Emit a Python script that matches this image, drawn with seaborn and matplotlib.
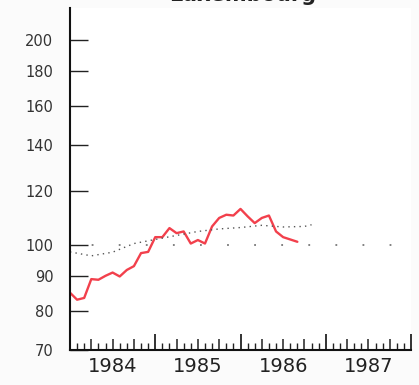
import numpy as np
import pandas as pd
import seaborn as sns
import matplotlib.pyplot as plt
from matplotlib.ticker import FixedLocator, NullFormatter

# Monthly index (red line), from Jan 1984
months = np.arange(33)
index_values = [85.0, 83.0, 83.5, 89.0, 88.8, 90.0, 91.0, 89.8, 91.8, 93.0, 97.2, 97.6,
                102.6, 102.6, 105.8, 104.0, 104.6, 100.4, 101.6, 100.4, 106.4, 109.5, 110.7, 110.4,
                112.9, 110.1, 107.6, 109.5, 110.4, 104.6, 102.6, 101.8, 101.0]

# Trend (dotted grey line)
trend_months = [0, 3, 6, 9, 12, 15, 18, 21, 24, 27, 30, 33, 34]
trend_values = [97.6, 96.3, 97.5, 100.4, 101.8, 103.2, 104.6, 105.5, 106.0, 106.8, 106.2, 106.4, 107.0]

years = [1984, 1985, 1986, 1987]
y_ticks = [70, 80, 90, 100, 120, 140, 160, 180, 200]

df = pd.DataFrame({"t": 1984 + months / 12, "v": index_values})
dft = pd.DataFrame({"t": 1984 + np.array(trend_months) / 12, "v": trend_values})

sns.set_style("white")
plt.rcParams['font.family'] = ['DejaVu Sans']

fig = plt.figure(figsize=(4.19, 3.85), dpi=100, facecolor='#fbfbfb')
ax = fig.add_axes([0.167, 0.091, 0.814, 0.888])
ax.set_facecolor('white')

sns.lineplot(data=df, x="t", y="v", ax=ax, color='#f2404c', linewidth=1.7)
sns.lineplot(data=dft, x="t", y="v", ax=ax, color='#555555', linewidth=1.0,
             linestyle=(0, (1, 3)))
ax.axhline(100, color='#777777', linewidth=1.3, linestyle=(3, (1, 14)))

ax.set_yscale('log')
ax.set_ylim(70, 223)
ax.set_xlim(1984, 1988)

ax.yaxis.set_major_locator(FixedLocator(y_ticks))
ax.yaxis.set_minor_locator(FixedLocator([]))
ax.set_yticklabels([str(v) for v in y_ticks])
ax.tick_params(axis='y', which='major', direction='in', length=13, width=1.0,
               color='#222222', labelsize=10.5, labelcolor='#333333', pad=12, left=True)

# year boundaries long, quarters medium, other months short
ax.xaxis.set_major_locator(FixedLocator([1984, 1985, 1986, 1987, 1988]))
ax.xaxis.set_major_formatter(NullFormatter())
ax.xaxis.set_minor_locator(FixedLocator([1984 + m / 12 for m in range(48) if m % 12 and m % 3 == 0]))
ax.tick_params(axis='x', which='major', direction='in', length=11.5, width=1.3,
               color='#222222', bottom=True)
ax.tick_params(axis='x', which='minor', direction='in', length=8, width=1.1,
               color='#222222', bottom=True)

mon = ax.secondary_xaxis('bottom')
mon.set_xticks([1984 + m / 12 for m in range(48) if m % 3])
mon.xaxis.set_major_formatter(NullFormatter())
mon.tick_params(direction='in', length=5, width=1.0, color='#222222')
mon.spines['bottom'].set_visible(False)

sec = ax.secondary_xaxis('bottom')
sec.set_xticks([y + 0.5 for y in years])
sec.set_xticklabels([str(y) for y in years])
sec.tick_params(length=0, labelsize=14, labelcolor='#222222', pad=5)
sec.spines['bottom'].set_visible(False)

ax.set_xlabel('')
ax.set_ylabel('')
for s in ['top', 'right']:
    ax.spines[s].set_visible(False)
for s in ['left', 'bottom']:
    ax.spines[s].set_color('#111111')
    ax.spines[s].set_linewidth(1.5)

fig.text(0.58, 1.012, 'Luxembourg', ha='center', va='center', fontsize=15,
         fontweight='bold', color='#222222')

fig.savefig('out.png', dpi=100, facecolor=fig.get_facecolor())
